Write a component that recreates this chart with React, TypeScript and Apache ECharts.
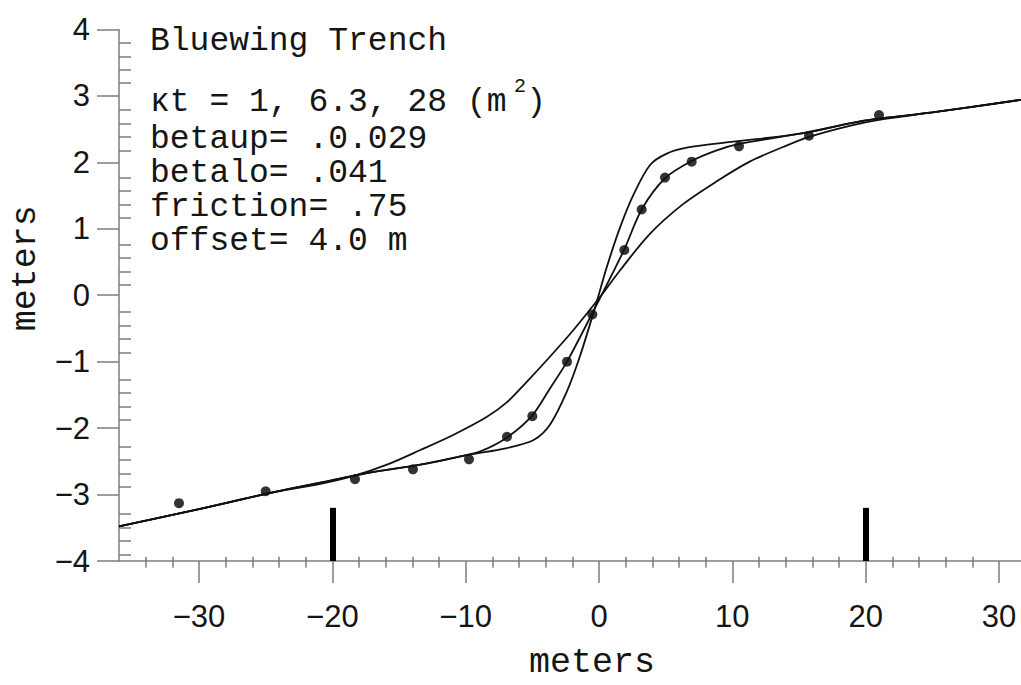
import React, { useEffect, useRef } from "react";
import * as echarts from "echarts";

// ---- data ----
const xMajorTicks = [-30, -20, -10, 0, 10, 20, 30];
const xRange = [-36, 36];
const yRange = [-4, 4];

// model profiles, kt = 1, 6.3, 28 m^2
const kt1X = [-36, -30, -25, -20.9, -17.2, -13.4, -9.7, -6.9, -4.9, -3.68, -2.43, -1.43, -0.2, 0.58, 1.58, 2.58, 3.83, 5.08, 6.58, 10.08, 15.08, 20, 25, 32];
const kt1Y = [-3.48, -3.22, -2.99, -2.82, -2.67, -2.55, -2.4, -2.3, -2.18, -1.95, -1.46, -0.92, -0.12, 0.42, 1.02, 1.51, 1.96, 2.13, 2.22, 2.31, 2.43, 2.63, 2.75, 2.95];

const kt63X = [-36, -30, -25, -20.9, -17.2, -13.4, -10.5, -8.9, -6.9, -5.05, -3.7, -2.4, -0.55, 1.85, 3.2, 4.95, 6.95, 8.83, 10.6, 15.08, 20, 25, 32];
const kt63Y = [-3.48, -3.22, -2.99, -2.82, -2.67, -2.55, -2.43, -2.35, -2.14, -1.82, -1.41, -1.0, -0.29, 0.67, 1.29, 1.76, 2.02, 2.18, 2.28, 2.43, 2.63, 2.75, 2.95];

const kt28X = [-36, -30, -25, -20.9, -18.4, -15.9, -13.4, -10.9, -8.4, -6.9, -5.4, -3.7, -1.9, 0.1, 1.6, 3.8, 6.3, 8.8, 11.3, 13.8, 15.7, 18.8, 21, 25, 32];
const kt28Y = [-3.48, -3.22, -2.99, -2.84, -2.72, -2.55, -2.33, -2.1, -1.83, -1.61, -1.3, -0.93, -0.52, -0.02, 0.38, 0.92, 1.37, 1.71, 2.01, 2.23, 2.38, 2.55, 2.64, 2.75, 2.95];

// surveyed profile points
const obsX = [-31.5, -25.0, -18.3, -13.95, -9.75, -6.9, -5.0, -2.4, -0.5, 1.9, 3.2, 4.95, 6.95, 10.5, 15.75, 21.0];
const obsY = [-3.13, -2.95, -2.77, -2.62, -2.47, -2.13, -1.82, -1.0, -0.29, 0.68, 1.29, 1.77, 2.01, 2.24, 2.4, 2.71];

// trench wall markers
const barX = [-20, 20];
const barTop = -3.2;

const titleLine = "Bluewing Trench";
const ktLine = "\u03bat = 1, 6.3, 28 (m";
const paramLines = ["betaup= .0.029", "betalo= .041", "friction= .75", "offset= 4.0 m"];

const zip = (xs: number[], ys: number[]) => xs.map((x, i) => [x, ys[i]]);
const fmtMinus = (v: number) => String(v).replace("-", "\u2212");

export default function App() {
  const ref = useRef<HTMLDivElement>(null);
  useEffect(() => {
    document.documentElement.style.overflow = "hidden";
    document.body.style.overflow = "hidden";
    const chart = echarts.init(ref.current!, null, { renderer: "svg" });

    const minorX: number[] = [];
    for (let v = -34; v <= 34; v += 2) if (v % 10 !== 0) minorX.push(v);
    const minorY: number[] = [];
    for (let k = -19; k <= 19; k++) if (k % 5 !== 0) minorY.push(Math.round(k * 2) / 10);

    const axisGrey = "#7d7d7d";
    const gridRect = { left: 119, top: 29.4, width: 960, height: 538.4 };
    const monoFont = '"Liberation Mono", "DejaVu Sans Mono", monospace';
    const sansFont = '"Liberation Sans", Arial, sans-serif';

    const lineSeries = (name: string, xs: number[], ys: number[]) => ({
      type: "line",
      name,
      data: zip(xs, ys),
      showSymbol: false,
      smooth: 0.3,
      lineStyle: { color: "#111", width: 1.8 },
      xAxisIndex: 0,
      yAxisIndex: 0,
      silent: true,
    });

    const ktY = 102;
    const cw = 19.8;
    const textX = 150;
    const txt = (t: string, x: number, y: number, size: number, align = "left") => ({
      type: "text",
      x,
      y,
      style: { text: t, fontSize: size, fontFamily: monoFont, fill: "#151515", align, verticalAlign: "middle", lineHeight: size >= 30 ? 29 : 16 },
    });
    const graphic: any[] = [
      txt(titleLine, textX, 41, 33),
      txt(ktLine, textX, ktY, 33),
      txt("2", 520, 86, 20, "center"),
      txt(")", textX + 19 * cw, ktY, 33),
    ];
    const paramY = [139, 173, 207, 241];
    paramLines.forEach((t, i) => graphic.push(txt(t, textX, paramY[i], 33)));

    chart.setOption({
      animation: false,
      backgroundColor: "#fff",
      grid: [{ ...gridRect }, { ...gridRect }],
      xAxis: [
        {
          type: "value",
          gridIndex: 0,
          min: xRange[0],
          max: xRange[1],
          name: "meters",
          nameLocation: "middle",
          nameGap: 84,
          nameTextStyle: { fontFamily: monoFont, fontSize: 35, color: "#151515", padding: [0, 14, 0, 0] },
          axisLine: { onZero: false, lineStyle: { color: axisGrey, width: 1.5 } },
          axisTick: { show: true, inside: false, length: 22, customValues: xMajorTicks, lineStyle: { color: axisGrey, width: 1.5 } },
          axisLabel: { customValues: xMajorTicks, margin: 40, fontFamily: sansFont, fontSize: 31, color: "#151515", formatter: fmtMinus },
          splitLine: { show: false },
        },
        {
          type: "value",
          gridIndex: 1,
          min: xRange[0],
          max: xRange[1],
          axisLine: { show: false, onZero: false },
          axisTick: { show: true, inside: true, length: 11, customValues: minorX, lineStyle: { color: axisGrey, width: 1.5 } },
          axisLabel: { show: false },
          splitLine: { show: false },
        },
      ],
      yAxis: [
        {
          type: "value",
          gridIndex: 0,
          min: yRange[0],
          max: yRange[1],
          interval: 1,
          name: "meters",
          nameLocation: "middle",
          nameGap: 69,
          nameTextStyle: { fontFamily: monoFont, fontSize: 35, color: "#151515", padding: [0, 0, 0, 54] },
          axisLine: { onZero: false, lineStyle: { color: axisGrey, width: 1.5 } },
          axisTick: { show: true, inside: false, length: 22, lineStyle: { color: axisGrey, width: 1.5 } },
          axisLabel: { margin: 29, fontFamily: sansFont, fontSize: 31, color: "#151515", formatter: fmtMinus, padding: [0, 0, 6, 0] },
          splitLine: { show: false },
        },
        {
          type: "value",
          gridIndex: 1,
          min: yRange[0],
          max: yRange[1],
          axisLine: { show: false, onZero: false },
          axisTick: { show: true, inside: true, length: 12, customValues: minorY, lineStyle: { color: axisGrey, width: 1.5 } },
          axisLabel: { show: false },
          splitLine: { show: false },
        },
      ],
      series: [
        lineSeries("kt=1", kt1X, kt1Y),
        lineSeries("kt=6.3", kt63X, kt63Y),
        lineSeries("kt=28", kt28X, kt28Y),
        {
          type: "scatter",
          name: "profile",
          xAxisIndex: 0,
          yAxisIndex: 0,
          data: zip(obsX, obsY),
          symbol: "circle",
          symbolSize: 10,
          itemStyle: { color: "#000" },
          silent: true,
          markLine: {
            silent: true,
            symbol: ["none", "none"],
            label: { show: false },
            lineStyle: { color: "#000", width: 6, type: "solid" },
            data: barX.map((x) => [{ coord: [x, yRange[0]] }, { coord: [x, barTop] }]),
          },
        },
      ],
      graphic,
    });
    return () => chart.dispose();
  }, []);

  return (
    <div
      ref={ref}
      style={{ position: "fixed", left: 0, top: 0, width: 1100, height: 685, background: "#fff" }}
    />
  );
}
